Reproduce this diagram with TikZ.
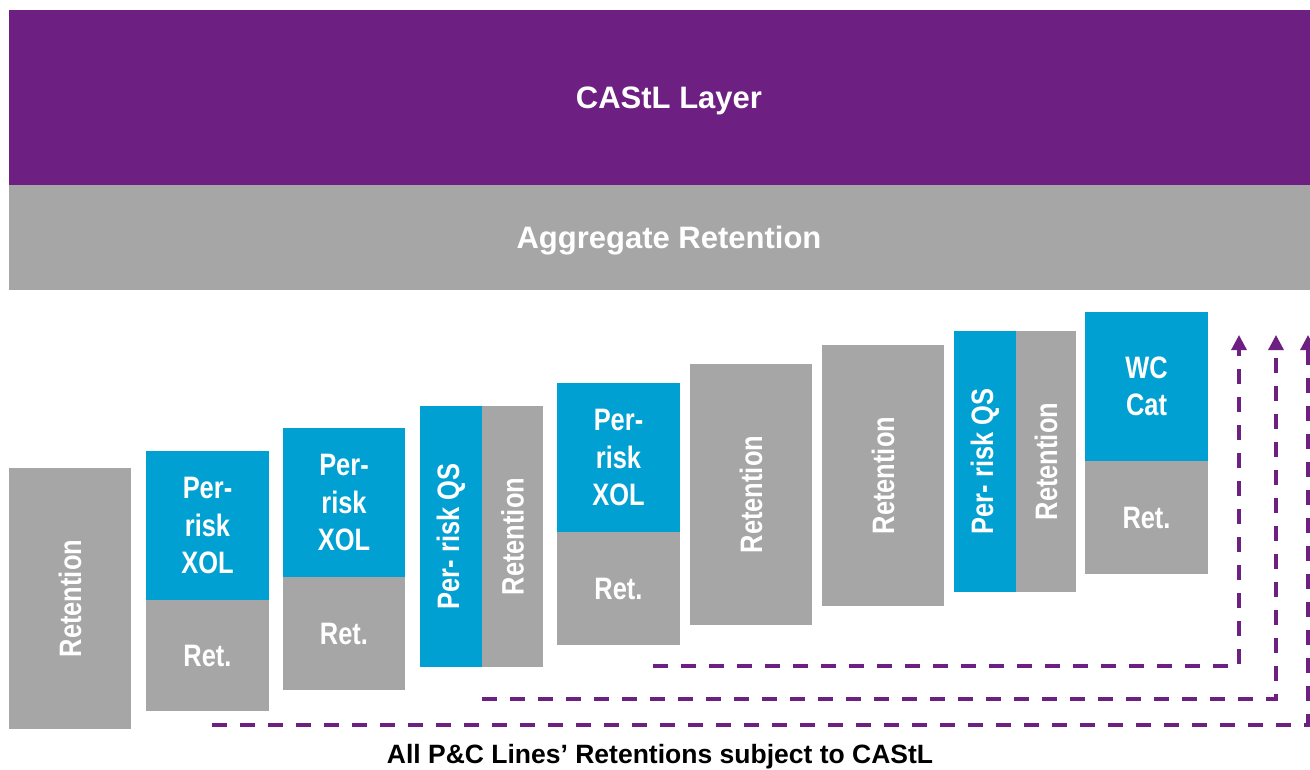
\documentclass[tikz,border=0pt]{standalone}
\usepackage{fontspec}
\setmainfont{Liberation Sans}
\newfontfamily\narrowsans[FakeStretch=0.82]{Liberation Sans}
\usepackage{tikz}
\usetikzlibrary{arrows.meta}
\definecolor{castlpurple}{RGB}{110,32,130}
\definecolor{retgray}{RGB}{166,166,166}
\definecolor{coverblue}{RGB}{0,161,210}

\begin{document}
\begin{tikzpicture}[x=1pt, y=-1pt,
	band/.style={fill=#1, text=white, inner sep=0pt, outer sep=0pt, minimum width=1320pt, text depth=0pt, font=\fontsize{31}{37}\selectfont\bfseries},
	blk/.style={fill=retgray, text=white, inner sep=0pt, outer sep=0pt, align=center, font=\narrowsans\fontsize{31}{37.5}\selectfont\bfseries},
	cov/.style={blk, fill=coverblue},
	feed/.style={draw=castlpurple, line width=3.2pt, dash pattern=on 15pt off 13pt, -{Triangle[width=15pt,length=15pt]}}
]
\clip (0,0) rectangle (1310,769);
% layers on top
\node[band=castlpurple, minimum height=175pt] (castl) at (669,97.5) {CAStL Layer};
\node[band=retgray, minimum height=105pt, anchor=north] (agg) at (castl.south) {Aggregate Retention};
% lines of business
\node[blk, rotate=90, minimum width=261pt, minimum height=122pt] (r1) at (70,598.5) {Retention};
\node[cov, minimum width=123pt, minimum height=149pt] (x2) at (207.5,525.5) {Per-\\risk\\XOL};
\node[blk, minimum width=123pt, minimum height=111pt, anchor=north] (r2) at (x2.south) {Ret.};
\node[cov, minimum width=122pt, minimum height=149pt] (x3) at (344,502.5) {Per-\\risk\\XOL};
\node[blk, minimum width=122pt, minimum height=113pt, anchor=north] (r3) at (x3.south) {Ret.};
\node[cov, rotate=90, minimum width=261pt, minimum height=62pt] (q4) at (451,536.5) {Per- risk QS};
\node[blk, rotate=90, minimum width=261pt, minimum height=61pt, anchor=north] (r4) at (q4.south) {Retention};
\node[cov, minimum width=123pt, minimum height=149pt] (x5) at (618.5,457.5) {Per-\\risk\\XOL};
\node[blk, minimum width=123pt, minimum height=113pt, anchor=north] (r5) at (x5.south) {Ret.};
\node[blk, rotate=90, minimum width=261pt, minimum height=122pt] (r6) at (751,494.5) {Retention};
\node[blk, rotate=90, minimum width=261pt, minimum height=122pt] (r7) at (883,475.5) {Retention};
\node[cov, rotate=90, minimum width=261pt, minimum height=62pt] (q8) at (985,461.5) {Per- risk QS};
\node[blk, rotate=90, minimum width=261pt, minimum height=60pt, anchor=north] (r8) at (q8.south) {Retention};
\node[cov, minimum width=123pt, minimum height=149pt] (c9) at (1146.5,386.5) {WC\\Cat};
\node[blk, minimum width=123pt, minimum height=113pt, anchor=north] (r9) at (c9.south) {Ret.};
% retentions feeding the CAStL
\coordinate (fromA) at (653,666);
\coordinate (toA) at (1239,335);
\coordinate (fromB) at (482,699);
\coordinate (toB) at (1276,335);
\coordinate (fromC) at (212,725);
\coordinate (toC) at (1308,335);
\draw[feed] (fromA) -| (toA);
\draw[feed] (fromB) -| (toB);
\draw[feed] (fromC) -| (toC);
\node[font=\fontsize{26.5}{32}\selectfont\bfseries] (note) at (660,757) {All P\&C Lines’ Retentions subject to CAStL};
\end{tikzpicture}
\end{document}
